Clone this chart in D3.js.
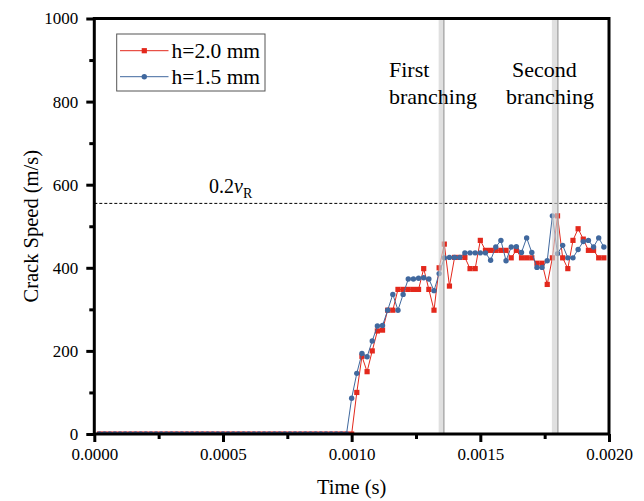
<!DOCTYPE html>
<html>
<head>
<meta charset="utf-8">
<script src="https://cdn.jsdelivr.net/npm/d3@7"></script>
<style>
  html, body { margin: 0; padding: 0; background: #fff; }
  svg { display: block; }
  svg text { font-family: "Liberation Serif", "Times New Roman", serif; }
</style>
</head>
<body>
<svg id="chart" width="644" height="501"></svg>
<script>
// ---------- data ----------
const timeStep = 0.00002;           // sampling interval (s); point k is at (k+1)*timeStep
const seriesNames = ["h=2.0 mm", "h=1.5 mm"];
const speedH20 = [
  0,0,0,0,0,0,0,0,0,0, 0,0,0,0,0,0,0,0,0,0, 0,0,0,0,0,0,0,0,0,0, 0,0,0,0,0,0,0,0,0,0,
  0,0,0,0,0,0,0,0,0,0,
  100,187,150,200,248,250,298,298,348,348,
  348,348,348,398,348,298,400,457,356,425,
  425,425,398,398,466,442,442,442,442,442,
  424,442,424,424,424,411,411,360,424,525,
  424,398,466,494,469,442,442,424,424
];
const speedH15 = [
  0,0,0,0,0,0,0,0,0,0, 0,0,0,0,0,0,0,0,0,0, 0,0,0,0,0,0,0,0,0,0, 0,0,0,0,0,0,0,0,0,0,
  0,0,0,0,0,0,0,0,0,
  86,146,194,186,224,260,261,298,336,298,
  336,373,373,375,376,373,345,386,424,425,
  425,425,436,436,436,436,436,418,450,466,
  417,450,451,437,472,437,401,401,417,525,
  434,454,424,424,444,463,466,450,472,450
];
const xTicks = [0, 0.0005, 0.0010, 0.0015, 0.0020];
const xMinorTicks = [0.00025, 0.00075, 0.00125, 0.00175];
const yTicks = [0, 200, 400, 600, 800, 1000];
const yMinorTicks = [100, 300, 500, 700, 900];
const refSpeed = 555;               // 0.2 v_R
const branchBands = [[0.001338, 0.001362], [0.001778, 0.001805]];
const branchLines = [0.001358, 0.001801];
const branchLabels = [["First", "branching"], ["Second", "branching"]];

// ---------- layout ----------
const svg = d3.select("#chart");
const FONT = "Liberation Serif, Times New Roman, serif";
const L = 94.3, R = 609, T = 18.5, B = 434;
const x = d3.scaleLinear().domain([0, 0.002]).range([L, R]);
const y = d3.scaleLinear().domain([0, 1000]).range([B, T]);
const RED = "#e3281c", BLUE = "#40689e";

const toPts = arr => arr.map((v, k) => ({ t: (k + 1) * timeStep, v }));
const ptsRed = toPts(speedH20);
const ptsBlue = toPts(speedH15);

svg.append("defs").append("clipPath").attr("id", "clip")
  .append("rect").attr("x", L).attr("y", T).attr("width", R - L).attr("height", B - T);

const plot = svg.append("g").attr("clip-path", "url(#clip)");

// reference line
plot.append("line")
  .attr("x1", x(0)).attr("x2", x(0.002))
  .attr("y1", y(refSpeed)).attr("y2", y(refSpeed))
  .attr("stroke", "#000").attr("stroke-width", 1).attr("stroke-dasharray", "3,2");

const line = d3.line().x(d => x(d.t)).y(d => y(d.v));

// red series
plot.append("path").datum(ptsRed).attr("d", line)
  .attr("fill", "none").attr("stroke", RED).attr("stroke-width", 1);
plot.selectAll(".sq").data(ptsRed).enter().append("rect")
  .attr("x", d => x(d.t) - 2.6).attr("y", d => y(d.v) - 2.6)
  .attr("width", 5.2).attr("height", 5.2).attr("fill", RED);

// blue series
plot.append("path").datum(ptsBlue).attr("d", line)
  .attr("fill", "none").attr("stroke", BLUE).attr("stroke-width", 1);
plot.selectAll(".ci").data(ptsBlue).enter().append("circle")
  .attr("cx", d => x(d.t)).attr("cy", d => y(d.v)).attr("r", 2.7).attr("fill", BLUE);

// branching bands (semi-transparent, on top)
branchBands.forEach((b, k) => {
  plot.append("rect")
    .attr("x", x(b[0])).attr("y", T).attr("width", x(b[1]) - x(b[0])).attr("height", B - T)
    .attr("fill", "#cfcfcf").attr("opacity", 0.65);
  plot.append("line")
    .attr("x1", x(branchLines[k])).attr("x2", x(branchLines[k]))
    .attr("y1", T).attr("y2", B)
    .attr("stroke", "#999").attr("stroke-width", 1.2).attr("opacity", 0.8);
});

// ---------- axes ----------
const xAxis = svg.append("g").attr("transform", `translate(0,${B})`)
  .call(d3.axisBottom(x).tickValues(xTicks).tickFormat(d3.format(".4f"))
    .tickSizeInner(8).tickSizeOuter(0).tickPadding(6));
const xMinor = svg.append("g").attr("transform", `translate(0,${B})`)
  .call(d3.axisBottom(x).tickValues(xMinorTicks).tickFormat("").tickSizeInner(5).tickSizeOuter(0));
const yAxis = svg.append("g").attr("transform", `translate(${L},0)`)
  .call(d3.axisLeft(y).tickValues(yTicks).tickFormat(d3.format("d"))
    .tickSizeInner(8).tickSizeOuter(0).tickPadding(8));
const yMinor = svg.append("g").attr("transform", `translate(${L},0)`)
  .call(d3.axisLeft(y).tickValues(yMinorTicks).tickFormat("").tickSizeInner(5).tickSizeOuter(0));

[xAxis, xMinor, yAxis, yMinor].forEach(g => {
  g.attr("font-family", FONT).attr("font-size", 17);
  g.select(".domain").remove();
  g.selectAll(".tick line").attr("stroke", "#000").attr("stroke-width", 3);
  g.selectAll(".tick text").attr("fill", "#000").attr("font-size", 17).attr("font-family", FONT);
});

// frame
svg.append("rect").attr("x", L).attr("y", T).attr("width", R - L).attr("height", B - T)
  .attr("fill", "none").attr("stroke", "#000").attr("stroke-width", 3);

// axis titles
svg.append("text").attr("x", (L + R) / 2).attr("y", 494).attr("text-anchor", "middle")
  .attr("font-size", 20.5).text("Time (s)");
svg.append("text").attr("transform", `translate(38,${(T + B) / 2}) rotate(-90)`)
  .attr("text-anchor", "middle").attr("font-size", 20.5).text("Crack Speed (m/s)");

// reference label 0.2 v_R
const refT = svg.append("text").attr("x", 209).attr("y", 193).attr("font-size", 20);
refT.append("tspan").text("0.2");
refT.append("tspan").attr("font-style", "italic").text("v");
refT.append("tspan").attr("font-size", 14).attr("dy", 5).text("R");

// branching labels
const labelPos = [[389, 389], [512, 506]];
branchLabels.forEach((lines, k) => {
  svg.append("text").attr("x", labelPos[k][0]).attr("y", 77).attr("font-size", 22).text(lines[0]);
  svg.append("text").attr("x", labelPos[k][1]).attr("y", 104).attr("font-size", 22).text(lines[1]);
});

// legend
const lg = svg.append("g");
lg.append("rect").attr("x", 116.7).attr("y", 34).attr("width", 148.3).attr("height", 57)
  .attr("fill", "#fff").attr("stroke", "#555").attr("stroke-width", 1);
const legendItems = [{ name: seriesNames[0], color: RED, shape: "sq" }, { name: seriesNames[1], color: BLUE, shape: "ci" }];
legendItems.forEach((it, k) => {
  const cy = 50.7 + k * 26;
  lg.append("line").attr("x1", 120).attr("x2", 168.5).attr("y1", cy).attr("y2", cy)
    .attr("stroke", it.color).attr("stroke-width", 1);
  if (it.shape === "sq") {
    lg.append("rect").attr("x", 144.3 - 2.6).attr("y", cy - 2.6).attr("width", 5.2).attr("height", 5.2).attr("fill", it.color);
  } else {
    lg.append("circle").attr("cx", 144.3).attr("cy", cy).attr("r", 2.7).attr("fill", it.color);
  }
  lg.append("text").attr("x", 171.5).attr("y", cy + 7.5).attr("font-size", 21.5).text(it.name);
});
</script>
</body>
</html>
